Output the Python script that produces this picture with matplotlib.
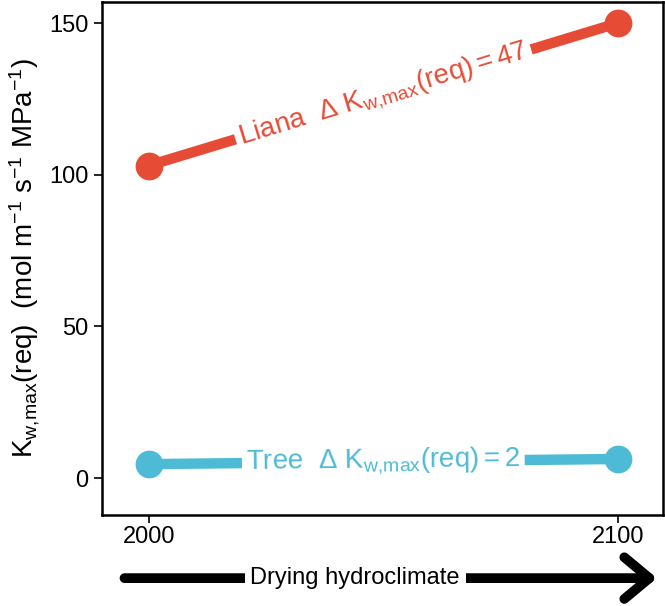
import numpy as np
import matplotlib.pyplot as plt
from matplotlib.patches import FancyArrowPatch

plt.rcParams['font.family'] = ['Liberation Sans', 'DejaVu Sans']
plt.rcParams['mathtext.fontset'] = 'custom'
plt.rcParams['mathtext.rm'] = 'Liberation Sans'
plt.rcParams['mathtext.it'] = 'Liberation Sans'

# 数据
years = [2000, 2100]
liana = [103, 150]
tree = [4.6, 6.3]
yticks = [0, 50, 100, 150]
liana_color = '#E64B35'
tree_color = '#4DBBD5'

fig = plt.figure(figsize=(6.65, 6.06), dpi=100)
ax = fig.add_axes([0.153, 0.150, 0.844, 0.847])

for vals, col in [(liana, liana_color), (tree, tree_color)]:
    ax.plot(years, vals, color=col, lw=7.5, solid_capstyle='butt', zorder=2)
    ax.plot(years, vals, 'o', color=col, ms=20, mec='none', zorder=3)

ax.set_xlim(1990, 2109.6)
ax.set_ylim(-12.2, 157)
ax.set_xticks(years)
ax.set_yticks(yticks)
ax.tick_params(labelsize=17, width=1.2, length=6, direction='out')
ax.tick_params(axis='x', pad=2)
for s in ax.spines.values():
    s.set_linewidth(1.8)

ax.set_ylabel(r'$\mathregular{K_{w{,}max}(req)\ \ (mol\ m^{-1}\ s^{-1}\ MPa^{-1})}$',
              fontsize=20, labelpad=5)

# 标签角度(显示坐标)
def disp_angle(xs, ys):
    p = ax.transData.transform(np.column_stack([xs, ys]))
    return np.degrees(np.arctan2(p[1, 1] - p[0, 1], p[1, 0] - p[0, 0]))

for vals, col, name, d in [(liana, liana_color, 'Liana', 47), (tree, tree_color, 'Tree', 2)]:
    ang = disp_angle(years, vals)
    ax.text(np.mean(years), np.mean(vals),
            name + r'  Δ $\mathregular{K_{w{,}max}(req) = %d}$' % d,
            color=col, fontsize=20, ha='center', va='center', rotation=ang,
            rotation_mode='anchor', zorder=4,
            bbox=dict(facecolor='white', edgecolor='none', pad=3))

# 下方箭头
arr = FancyArrowPatch((0.183, 0.046), (0.992, 0.046), transform=fig.transFigure,
                      arrowstyle='->,head_length=0.9,head_width=0.75',
                      color='black', lw=7, mutation_scale=20)
fig.patches.append(arr)
fig.text(0.534, 0.046, 'Drying hydroclimate', fontsize=17, ha='center', va='center',
         bbox=dict(facecolor='white', edgecolor='none', pad=4), zorder=5)

fig.savefig('out.png', dpi=100)
